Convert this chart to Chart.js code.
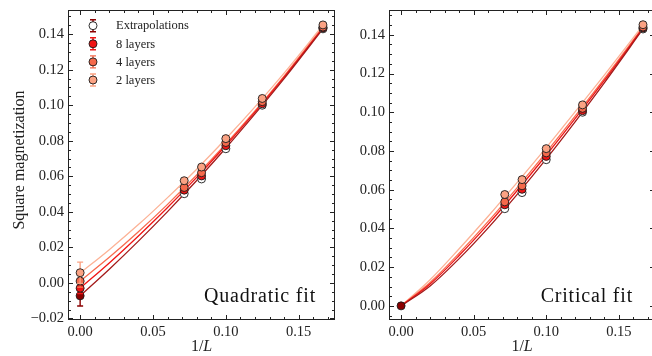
<!DOCTYPE html>
<html><head><meta charset="utf-8">
<script src="https://cdn.jsdelivr.net/npm/chart.js@4/dist/chart.umd.min.js"></script>
<style>
html,body{margin:0;padding:0;background:#fff;overflow:hidden;width:652px;height:356px;}
#wrap{position:relative;width:652px;height:356px;overflow:hidden;background:#fff;}
canvas{position:absolute;top:0;}
#c1{left:0;} #c2{left:340px;}
</style></head><body>
<div id="wrap"><canvas id="c1" width="340" height="356"></canvas><canvas id="c2" width="320" height="356"></canvas></div>
<script>
// ---------------- data ----------------
const L = [6, 8, 10, 12, 14];
const invL = L.map(v => 1 / v);
const seriesNames = ['Extrapolations', '8 layers', '4 layers', '2 layers'];
const extrapolations = [0.1430, 0.1000, 0.0755, 0.0585, 0.0502];
const layers8 = [0.1435, 0.1008, 0.0772, 0.0602, 0.0522];
const layers4 = [0.1440, 0.1020, 0.0790, 0.0620, 0.0537];
const layers2 = [0.1452, 0.1038, 0.0812, 0.0652, 0.0575];
// values at 1/L = 0 (quadratic fit panel), order: Extrapolations, 8, 4, 2 layers
const zeroQuad = [-0.0073, -0.0030, 0.0010, 0.0057];
const zeroQuadErr = [0.0057, 0.0030, 0.0035, 0.0060];
// value at 1/L = 0 (critical fit panel)
const zeroCrit = [0.0];
// fit curves
const fitX = [0, 0.02, 0.04, 0.06, 0.08, 0.10, 0.12, 0.14, 1 / 6];
const quadExtrap = [-0.0073, 0.0077, 0.0235, 0.0401, 0.0576, 0.0759, 0.0951, 0.1150, 0.1430];
const quad8 = [-0.0030, 0.0112, 0.0264, 0.0424, 0.0594, 0.0773, 0.0961, 0.1158, 0.1435];
const quad4 = [0.0010, 0.0144, 0.0288, 0.0442, 0.0607, 0.0782, 0.0968, 0.1164, 0.1440];
const quad2 = [0.0055, 0.0187, 0.0328, 0.0480, 0.0640, 0.0811, 0.0991, 0.1181, 0.1450];
const critExtrap = [0, 0.0103, 0.0244, 0.0403, 0.0576, 0.0759, 0.0952, 0.1152, 0.1430];
const crit8 = [0, 0.0113, 0.0260, 0.0422, 0.0596, 0.0778, 0.0968, 0.1164, 0.1435];
const crit4 = [0, 0.0121, 0.0272, 0.0436, 0.0611, 0.0793, 0.0981, 0.1174, 0.1440];
const crit2 = [0, 0.0135, 0.0295, 0.0463, 0.0638, 0.0817, 0.1003, 0.1192, 0.1450];
// ticks
const xTicks = [0, 0.05, 0.10, 0.15];
const yTicksQuad = [-0.02, 0, 0.02, 0.04, 0.06, 0.08, 0.10, 0.12, 0.14];
const yTicksCrit = [0, 0.02, 0.04, 0.06, 0.08, 0.10, 0.12, 0.14];

// ---------------- style ----------------
const SERIF = '"Liberation Serif", "Times New Roman", serif';
const INK = '#222';
const markerFill = ['#ffffff', '#f01414', '#f5694b', '#fba283'];
const errColor = ['#8b0000', '#f01414', '#f5694b', '#fba283'];
const lineColor = ['#a31a1a', '#f01414', '#f76b4f', '#fcb296'];
const zeroFillExt = '#8b0000';
const seriesVals = [extrapolations, layers8, layers4, layers2];

const fmt = v => (v < 0 ? '\u2212' : '') + Math.abs(v).toFixed(2);

function buildDatasets(fits, zeroVals, zeroErrs, zeroOnlyExt) {
  const ds = [];
  fits.forEach((f, s) => {
    ds.push({
      data: fitX.map((x, i) => ({x: x, y: f[i]})),
      showLine: true, pointRadius: 0, borderColor: lineColor[s], borderWidth: 1.3,
      cubicInterpolationMode: 'monotone', fill: false, order: 20 + s
    });
  });
  seriesVals.forEach((vals, s) => {
    const pts = invL.map((x, i) => ({x: x, y: vals[i]}));
    const bg = pts.map(() => markerFill[s]);
    const errs = pts.map(() => 0);
    if (!zeroOnlyExt || s === 0) {
      pts.push({x: 0, y: zeroVals[zeroOnlyExt ? 0 : s]});
      bg.push(s === 0 ? zeroFillExt : markerFill[s]);
      errs.push(zeroErrs ? zeroErrs[s] : 0);
    }
    ds.push({
      data: pts, showLine: false, pointRadius: 4, pointHoverRadius: 4,
      backgroundColor: bg, borderColor: '#1a1a1a', borderWidth: 0.9,
      errors: errs, errColor: errColor[s], order: 4 - s
    });
  });
  return ds;
}

const errorBarPlugin = {
  id: 'errbars',
  beforeDatasetDraw(chart, args) {
    const ds = chart.data.datasets[args.index];
    if (!ds.errors) return;
    const ctx = chart.ctx, ys = chart.scales.y, ca = chart.chartArea;
    ctx.save();
    ctx.beginPath(); ctx.rect(ca.left, ca.top, ca.right - ca.left, ca.bottom - ca.top); ctx.clip();
    ctx.strokeStyle = ds.errColor; ctx.lineWidth = 1.4;
    args.meta.data.forEach((el, i) => {
      const e = ds.errors[i];
      if (!e) return;
      const v = ds.data[i].y;
      const y1 = ys.getPixelForValue(v - e), y2 = ys.getPixelForValue(v + e);
      ctx.beginPath();
      ctx.moveTo(el.x, y1); ctx.lineTo(el.x, y2);
      ctx.moveTo(el.x - 3, y1); ctx.lineTo(el.x + 3, y1);
      ctx.moveTo(el.x - 3, y2); ctx.lineTo(el.x + 3, y2);
      ctx.stroke();
    });
    ctx.restore();
  }
};

function framePlugin(yMajor) {
  return {
    id: 'frame',
    afterDraw(chart) {
      const ctx = chart.ctx, ca = chart.chartArea, xs = chart.scales.x, ys = chart.scales.y;
      const l = Math.round(ca.left) + 0.5, r = Math.round(ca.right) - 0.5;
      const t = Math.round(ca.top) + 0.5, b = Math.round(ca.bottom) - 0.5;
      ctx.save();
      ctx.strokeStyle = INK; ctx.lineWidth = 1;
      ctx.strokeRect(l, t, r - l, b - t);
      ctx.beginPath();
      // x ticks
      for (let k = -1; k <= 18; k++) {
        const v = k * 0.01;
        if (v < xs.min || v > xs.max) continue;
        const major = xTicks.some(m => Math.abs(m - v) < 1e-9);
        const len = major ? 4.5 : 2.5;
        const px = Math.round(xs.getPixelForValue(v)) + 0.5;
        ctx.moveTo(px, b); ctx.lineTo(px, b - len);
        ctx.moveTo(px, t); ctx.lineTo(px, t + len);
      }
      // y ticks
      for (let k = -5; k <= 31; k++) {
        const v = k * 0.005;
        if (v < ys.min || v > ys.max) continue;
        const major = yMajor.some(m => Math.abs(m - v) < 1e-9);
        const len = major ? 4.5 : 2.5;
        const py = Math.round(ys.getPixelForValue(v)) + 0.5;
        ctx.moveTo(l, py); ctx.lineTo(l + len, py);
        ctx.moveTo(r, py); ctx.lineTo(r - len, py);
      }
      ctx.stroke();
      ctx.restore();
    }
  };
}

function textPlugin(label, labelRight, yTitle) {
  return {
    id: 'texts',
    afterDraw(chart) {
      const ctx = chart.ctx, ca = chart.chartArea;
      ctx.save();
      ctx.fillStyle = '#111';
      // annotation
      ctx.font = '20px ' + SERIF;
      ctx.letterSpacing = '0.8px';
      ctx.textAlign = 'right'; ctx.textBaseline = 'alphabetic';
      ctx.fillText(label, labelRight, 302);
      ctx.letterSpacing = '0px';
      // x title "1/L"
      ctx.font = '16px ' + SERIF;
      const a = '1/', w1 = ctx.measureText(a).width;
      ctx.font = 'italic 16px ' + SERIF;
      const w2 = ctx.measureText('L').width;
      const cx = (ca.left + ca.right) / 2;
      let x0 = cx - (w1 + w2) / 2;
      ctx.textAlign = 'left';
      ctx.font = '16px ' + SERIF;
      ctx.fillStyle = INK;
      ctx.fillText(a, x0, 351);
      ctx.font = 'italic 16px ' + SERIF;
      ctx.fillText('L', x0 + w1, 351);
      // y title
      if (yTitle) {
        ctx.save();
        ctx.translate(20, 160);
        ctx.rotate(-Math.PI / 2);
        ctx.font = '16px ' + SERIF;
        ctx.textAlign = 'center'; ctx.textBaseline = 'middle';
        ctx.fillText(yTitle, 0, 0);
        ctx.restore();
      }
      ctx.restore();
    }
  };
}

const legendPlugin = {
  id: 'legendBox',
  afterDraw(chart) {
    const ctx = chart.ctx;
    ctx.save();
    seriesNames.forEach((name, s) => {
      const cx = 93, cy = 25.7 + 18.1 * s;
      ctx.strokeStyle = errColor[s]; ctx.lineWidth = 1.4;
      ctx.beginPath();
      ctx.moveTo(cx, cy - 6); ctx.lineTo(cx, cy + 6);
      ctx.moveTo(cx - 3, cy - 6); ctx.lineTo(cx + 3, cy - 6);
      ctx.moveTo(cx - 3, cy + 6); ctx.lineTo(cx + 3, cy + 6);
      ctx.stroke();
      ctx.beginPath(); ctx.arc(cx, cy, 4, 0, Math.PI * 2);
      ctx.fillStyle = markerFill[s]; ctx.fill();
      ctx.strokeStyle = '#1a1a1a'; ctx.lineWidth = 0.9; ctx.stroke();
      ctx.fillStyle = INK;
      ctx.font = '12.5px ' + SERIF;
      ctx.textAlign = 'left'; ctx.textBaseline = 'middle';
      ctx.fillText(name, 116, cy + 0.5);
    });
    ctx.restore();
  }
};

function makeChart(canvas, cfg) {
  return new Chart(canvas, {
    type: 'scatter',
    data: {datasets: cfg.datasets},
    options: {
      responsive: false, animation: false, devicePixelRatio: 1,
      events: [],
      layout: {padding: {left: 0, right: cfg.rightPad, top: 10, bottom: 0}},
      plugins: {legend: {display: false}, tooltip: {enabled: false}},
      scales: {
        x: {
          type: 'linear', min: -0.00833, max: 0.175,
          grid: {display: false, drawTicks: false}, border: {display: false},
          ticks: {font: {family: SERIF, size: 14.5}, color: INK, padding: 3, maxRotation: 0, autoSkip: false, callback: v => fmt(v)},
          afterBuildTicks: s => { s.ticks = xTicks.map(v => ({value: v})); },
          afterFit: s => { s.height = 36; s.paddingLeft = 0; s.paddingRight = 0; }
        },
        y: {
          type: 'linear', min: cfg.ymin, max: cfg.ymax,
          grid: {display: false, drawTicks: false}, border: {display: false},
          ticks: {font: {family: SERIF, size: 14.5}, color: INK, padding: 4, autoSkip: false, callback: v => fmt(v)},
          afterBuildTicks: s => { s.ticks = cfg.yTicks.map(v => ({value: v})); },
          afterFit: s => { s.width = cfg.yWidth; s.paddingTop = 0; s.paddingBottom = 0; }
        }
      }
    },
    plugins: cfg.plugins
  });
}

makeChart(document.getElementById('c1'), {
  datasets: buildDatasets([quadExtrap, quad8, quad4, quad2], zeroQuad, zeroQuadErr, false),
  ymin: -0.0209, ymax: 0.1536, yTicks: yTicksQuad, yWidth: 68, rightPad: 4,
  plugins: [errorBarPlugin, framePlugin(yTicksQuad), textPlugin('Quadratic fit', 316, 'Square magnetization'), legendPlugin]
});

makeChart(document.getElementById('c2'), {
  datasets: buildDatasets([critExtrap, crit8, crit4, crit2], zeroCrit, null, true),
  ymin: -0.0073, ymax: 0.1528, yTicks: yTicksCrit, yWidth: 49, rightPad: 3,
  plugins: [errorBarPlugin, framePlugin(yTicksCrit), textPlugin('Critical fit', 293, null)]
});
</script>
</body></html>
